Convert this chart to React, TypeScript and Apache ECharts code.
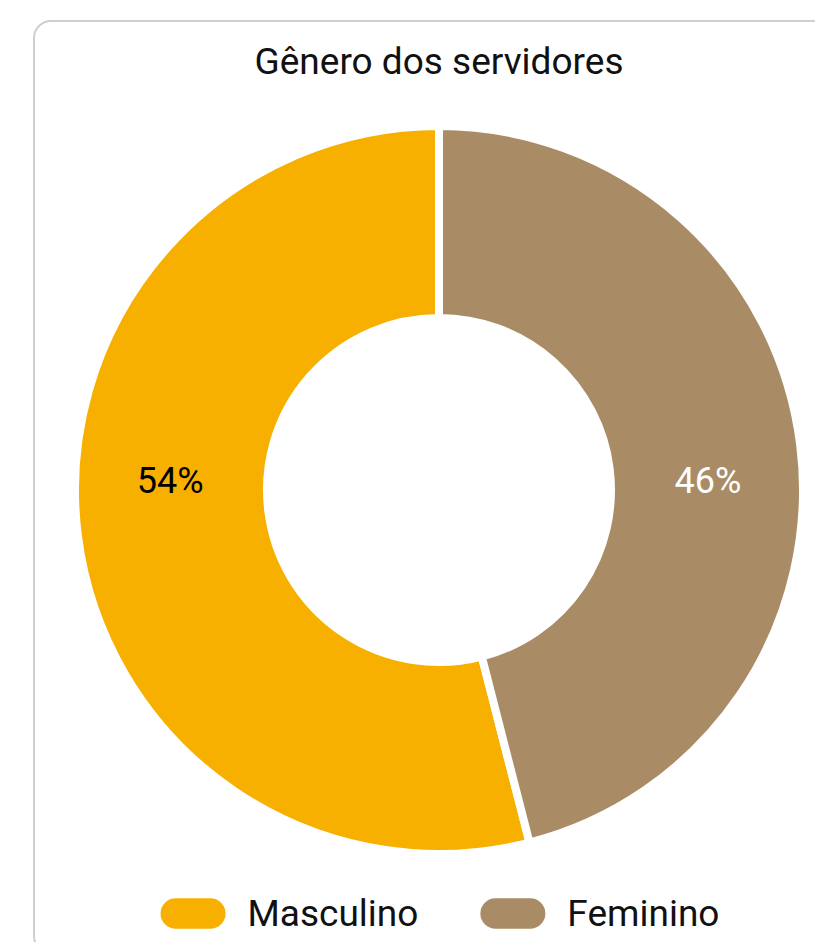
import React, { useEffect, useRef } from "react";
import * as echarts from "echarts";

const title = "Gênero dos servidores";
const categories = ["Masculino", "Feminino"];
const values = [54, 46];
const colors = ["#F8B000", "#A98C66"];
const labelColors = ["#000000", "#ffffff"];

const CHART_W = 808;
const CHART_H = 930;
const CX = 404;
const CY = 468;

export default function App() {
  const ref = useRef<HTMLDivElement>(null);
  useEffect(() => {
    if (!ref.current) return;
    const chart = echarts.init(ref.current, undefined, { renderer: "svg" });
    const pill = "path://M16,0 H50 A16,16 0 0 1 50,32 H16 A16,16 0 0 1 16,0 Z";
    chart.setOption({
      animation: false,
      textStyle: { fontFamily: "Roboto" },
      title: {
        text: title,
        left: "center",
        top: 16,
        textStyle: { fontFamily: "Roboto", fontSize: 37, fontWeight: "normal", color: "#111" },
      },
      legend: {
        data: categories,
        left: "center",
        top: 868,
        itemWidth: 67,
        itemHeight: 34,
        itemGap: 60,
        icon: pill,
        textStyle: { fontFamily: "Roboto", fontSize: 37, color: "#111", padding: [0, 0, 0, 16] },
      },
      series: [
        {
          type: "pie",
          center: [CX, CY],
          radius: [172, 364],
          startAngle: 90,
          clockwise: false,
          itemStyle: { borderColor: "#fff", borderWidth: 8 },
          label: {
            show: true,
            position: "inside",
            formatter: (p: any) => p.value + "%",
            fontFamily: "Roboto",
            fontSize: 36,
          },
          labelLayout: () => ({ y: CY - 9 }),
          emphasis: { disabled: true },
          data: categories.map((c, i) => ({
            name: c,
            value: values[i],
            itemStyle: { color: colors[i] },
            label: { color: labelColors[i] },
          })),
        },
      ],
    });
    return () => chart.dispose();
  }, []);
  return (
    <div style={{ position: "fixed", left: 0, top: 0, width: 815, height: 942, overflow: "hidden", background: "#fff" }}>
      <div
        style={{
          position: "absolute",
          left: 33,
          top: 20,
          width: CHART_W,
          height: CHART_H,
          border: "2px solid #cfcfcf",
          borderRadius: 18,
        }}
      >
        <div ref={ref} style={{ width: CHART_W, height: CHART_H }} />
      </div>
    </div>
  );
}
